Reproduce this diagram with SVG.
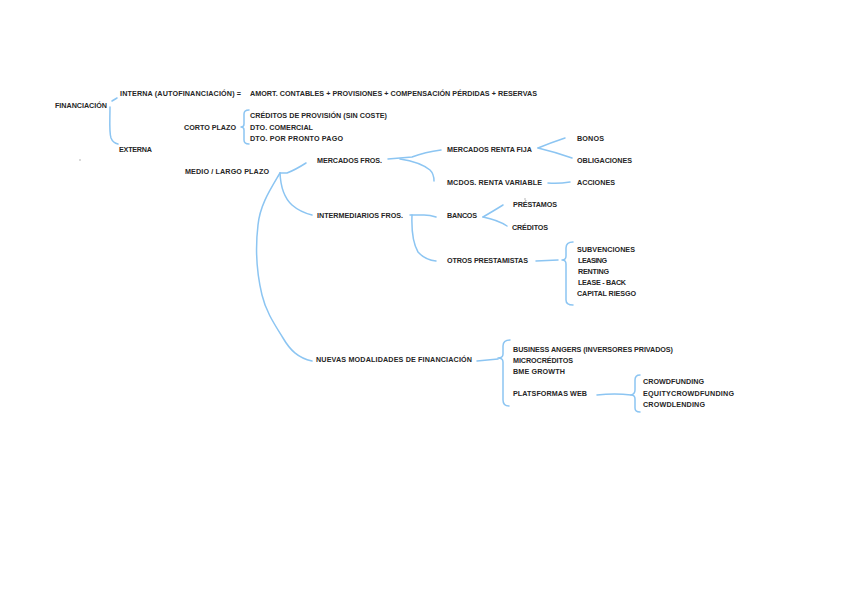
<svg xmlns="http://www.w3.org/2000/svg" width="848" height="599" viewBox="0 0 848 599">
<style>
text{font-family:"Liberation Sans",Arial,sans-serif;font-size:7.2px;font-weight:bold;fill:#262626;}
.c{fill:none;stroke:#8cc5f2;stroke-width:1.5;stroke-linecap:round;stroke-linejoin:round;}
.dot{fill:#9a9a9a;}
</style>
<rect width="848" height="599" fill="#ffffff"/>
<g id="connectors">
<path class="c" d="M112,101 L117,98"/>
<path class="c" d="M110,107 C110,120 109,132 111,138 Q113,143 118,144"/>
<path class="c" d="M249,110 Q244,110 244,114 L244,124 Q244,127 241,127 Q244,127 244,130 L244,140 Q244,144 249,144"/>
<path class="c" d="M280,173 L287,173 Q295,170 306,163"/>
<path class="c" d="M280,173 Q281,195 292,205 Q300,212 312,215"/>
<path class="c" d="M280,173 C270,190 260,205 258,225 C255,250 256,270 262,295 C266,312 275,325 283,338 C290,350 298,358 312,361"/>
<path class="c" d="M388,159 L412,157 Q425,152 441,150"/>
<path class="c" d="M400,159 Q420,162 430,170 Q434,174 434,181"/>
<path class="c" d="M538,148 Q550,143 565,138"/>
<path class="c" d="M538,148 Q555,152 572,158"/>
<path class="c" d="M548,183 Q558,184 570,182"/>
<path class="c" d="M410,215 L424,215 Q430,215 436,217"/>
<path class="c" d="M412,215 Q411,240 418,252 Q425,260 436,261"/>
<path class="c" d="M483,217 Q495,210 503,205"/>
<path class="c" d="M483,217 Q498,220 507,226"/>
<path class="c" d="M536,261 L558,260"/>
<path class="c" d="M573,242 Q566,242 566,248 L566,256 Q566,260 562,260 Q566,260 566,264 L566,300 Q566,305 573,305"/>
<path class="c" d="M477,361 L498,359"/>
<path class="c" d="M510,340 Q503,340 503,346 L503,354 Q503,358 498,358 Q503,358 503,362 L503,400 Q503,406 509,406"/>
<path class="c" d="M597,395 Q615,393 631,395"/>
<path class="c" d="M640,375 Q635,375 635,380 L635,390 Q635,394 631,395 Q635,395 635,399 L635,408 Q635,412 640,412"/>
</g>
<circle class="dot" cx="80" cy="160" r="0.7"/>
<circle class="dot" cx="525" cy="199" r="0.7"/>
<g id="financiacion"><text x="55" y="108" textLength="52" lengthAdjust="spacing">FINANCIACIÓN</text></g>
<g id="interna"><text x="120" y="96" textLength="121" lengthAdjust="spacing">INTERNA (AUTOFINANCIACIÓN) =</text></g>
<g id="amort"><text x="250" y="96" textLength="287" lengthAdjust="spacing">AMORT. CONTABLES + PROVISIONES + COMPENSACIÓN PÉRDIDAS + RESERVAS</text></g>
<g id="externa"><text x="119" y="152" textLength="33" lengthAdjust="spacing">EXTERNA</text></g>
<g id="corto-plazo"><text x="184" y="130" textLength="52" lengthAdjust="spacing">CORTO PLAZO</text></g>
<g id="corto-lista">
<text x="250" y="118" textLength="137" lengthAdjust="spacing">CRÉDITOS DE PROVISIÓN (SIN COSTE)</text>
<text x="250" y="130" textLength="63" lengthAdjust="spacing">DTO. COMERCIAL</text>
<text x="250" y="141" textLength="93" lengthAdjust="spacing">DTO. POR PRONTO PAGO</text>
</g>
<g id="medio-largo"><text x="185" y="174" textLength="84" lengthAdjust="spacing">MEDIO / LARGO PLAZO</text></g>
<g id="mercados-fros"><text x="317" y="163" textLength="65" lengthAdjust="spacing">MERCADOS FROS.</text></g>
<g id="renta-fija"><text x="447" y="152" textLength="85" lengthAdjust="spacing">MERCADOS RENTA FIJA</text></g>
<g id="bonos"><text x="577" y="141" textLength="27" lengthAdjust="spacing">BONOS</text></g>
<g id="obligaciones"><text x="577" y="163" textLength="55" lengthAdjust="spacing">OBLIGACIONES</text></g>
<g id="renta-variable"><text x="447" y="185" textLength="95" lengthAdjust="spacing">MCDOS. RENTA VARIABLE</text></g>
<g id="acciones"><text x="577" y="185" textLength="38" lengthAdjust="spacing">ACCIONES</text></g>
<g id="intermediarios"><text x="317" y="218" textLength="86" lengthAdjust="spacing">INTERMEDIARIOS FROS.</text></g>
<g id="bancos"><text x="447" y="218" textLength="30" lengthAdjust="spacing">BANCOS</text></g>
<g id="prestamos"><text x="513" y="207" textLength="44" lengthAdjust="spacing">PRÉSTAMOS</text></g>
<g id="creditos"><text x="512" y="230" textLength="36" lengthAdjust="spacing">CRÉDITOS</text></g>
<g id="otros-prestamistas"><text x="447" y="263" textLength="81" lengthAdjust="spacing">OTROS PRESTAMISTAS</text></g>
<g id="otros-lista">
<text x="577" y="252" textLength="58" lengthAdjust="spacing">SUBVENCIONES</text>
<text x="578" y="263" textLength="29" lengthAdjust="spacing">LEASING</text>
<text x="578" y="274" textLength="31" lengthAdjust="spacing">RENTING</text>
<text x="578" y="285" textLength="48" lengthAdjust="spacing">LEASE - BACK</text>
<text x="577" y="296" textLength="59" lengthAdjust="spacing">CAPITAL RIESGO</text>
</g>
<g id="nuevas-modalidades"><text x="316" y="362" textLength="156" lengthAdjust="spacing">NUEVAS MODALIDADES DE FINANCIACIÓN</text></g>
<g id="nuevas-lista">
<text x="513" y="352" textLength="160" lengthAdjust="spacing">BUSINESS ANGERS (INVERSORES PRIVADOS)</text>
<text x="513" y="363" textLength="60" lengthAdjust="spacing">MICROCRÉDITOS</text>
<text x="513" y="374" textLength="52" lengthAdjust="spacing">BME GROWTH</text>
</g>
<g id="plataformas-web"><text x="513" y="396" textLength="74" lengthAdjust="spacing">PLATSFORMAS WEB</text></g>
<g id="web-lista">
<text x="643" y="384" textLength="61" lengthAdjust="spacing">CROWDFUNDING</text>
<text x="643" y="396" textLength="91" lengthAdjust="spacing">EQUITYCROWDFUNDING</text>
<text x="643" y="407" textLength="62" lengthAdjust="spacing">CROWDLENDING</text>
</g>
</svg>
